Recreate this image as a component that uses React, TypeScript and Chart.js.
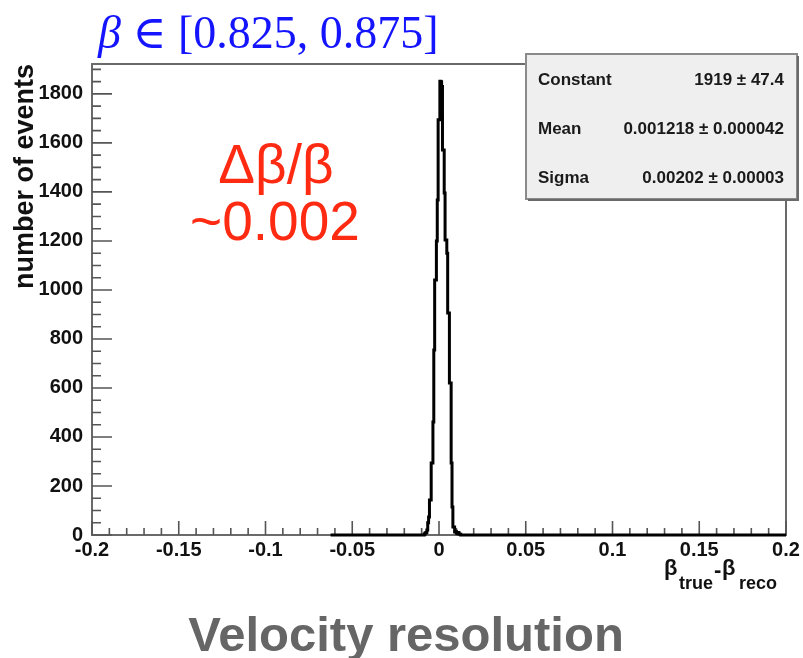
import React, { useEffect, useRef } from 'react';
import { Chart, registerables } from 'chart.js';

Chart.register(...registerables);

// ---------------- data ----------------
const histRange = [-0.0625, 0.2];
const binWidth = 0.0005;
const peakStart = -0.0085;
const peakCounts = [
  4, 8, 10, 20, 50, 73, 143, 143, 294, 294, 461, 755, 1041, 1041, 1200, 1367,
  1694, 1694, 1852, 1850, 1830, 1571, 1571, 1396, 1204, 1204, 1150, 906, 906,
  620, 620, 294, 114, 33, 33, 12, 15, 8, 5, 10, 4, 3,
];
const xTickValues = [-0.2, -0.15, -0.1, -0.05, 0, 0.05, 0.1, 0.15, 0.2];
const xTickLabels = ['-0.2', '-0.15', '-0.1', '-0.05', '0', '0.05', '0.1', '0.15', '0.2'];
const yTickValues = [0, 200, 400, 600, 800, 1000, 1200, 1400, 1600, 1800];
const yTickLabels = ['0', '200', '400', '600', '800', '1000', '1200', '1400', '1600', '1800'];
const xMinorStep = 0.01;
const yMinorStep = 50;
const yMax = 1922;
const statsNames = ['Constant', 'Mean', 'Sigma'];
const statsValues = ['1919 \u00b1 47.4', '0.001218 \u00b1 0.000042', '0.00202 \u00b1 0.00003'];
const yTitle = 'number of events';
const annotationLines = ['\u0394\u03b2/\u03b2', '~0.002'];
const bottomTitle = 'Velocity resolution';

const W = 803;
const H = 658;
const SANS = '"Liberation Sans", Arial, sans-serif';
const SERIF = '"Liberation Serif", "DejaVu Serif", serif';

const overlayPlugin = {
  id: 'overlay',
  beforeDatasetsDraw(chart: any) {
    const { ctx, chartArea } = chart;
    const xs = chart.scales.x;
    const ys = chart.scales.y;
    const { left, right, top, bottom } = chartArea;
    ctx.save();
    // frame
    ctx.strokeStyle = '#6a6a6a';
    ctx.lineWidth = 2;
    ctx.beginPath();
    ctx.rect(left, top, right - left, bottom - top);
    ctx.stroke();
    // ticks
    ctx.lineWidth = 1.6;
    ctx.strokeStyle = '#555';
    ctx.beginPath();
    const nY = Math.floor(yMax / yMinorStep);
    for (let k = 0; k <= nY; k++) {
      const v = k * yMinorStep;
      const py = ys.getPixelForValue(v);
      const len = v % 200 === 0 ? 20 : 9;
      ctx.moveTo(left, py);
      ctx.lineTo(left + len, py);
    }
    const nX = Math.round((xs.max - xs.min) / xMinorStep);
    for (let k = 0; k <= nX; k++) {
      const v = xs.min + k * xMinorStep;
      const px = xs.getPixelForValue(v);
      const len = k % 5 === 0 ? 14 : 7;
      ctx.moveTo(px, bottom);
      ctx.lineTo(px, bottom - len);
    }
    ctx.stroke();
    ctx.restore();
  },
  afterDraw(chart: any) {
    const { ctx } = chart;
    ctx.save();

    // blue title
    ctx.fillStyle = '#1414ff';
    ctx.textBaseline = 'alphabetic';
    ctx.textAlign = 'left';
    ctx.font = `italic 46px ${SERIF}`;
    ctx.fillText('\u03b2', 98, 48);
    const bw = ctx.measureText('\u03b2').width;
    ctx.font = `46px ${SERIF}`;
    ctx.fillText(' \u2208 [0.825, 0.875]', 98 + bw, 48);

    // y title
    ctx.save();
    ctx.translate(33, 64);
    ctx.rotate(-Math.PI / 2);
    ctx.fillStyle = '#111';
    ctx.font = `bold 27px ${SANS}`;
    ctx.textAlign = 'right';
    ctx.fillText(yTitle, 0, 0);
    ctx.restore();

    // red annotation
    ctx.fillStyle = '#ff2a12';
    ctx.font = `55px ${SANS}`;
    ctx.textAlign = 'center';
    ctx.fillText(annotationLines[0], 276, 183);
    ctx.fillText(annotationLines[1], 275, 240);

    // stats box
    const bx = 526, by = 54, bwid = 271, bh = 145;
    ctx.fillStyle = '#efefef';
    ctx.fillRect(bx, by, bwid, bh);
    ctx.strokeStyle = '#8a8a8a';
    ctx.lineWidth = 2;
    ctx.strokeRect(bx, by, bwid, bh);
    ctx.strokeStyle = '#6a6a6a';
    ctx.beginPath();
    ctx.moveTo(bx + 2, by + bh + 1);
    ctx.lineTo(bx + bwid + 1, by + bh + 1);
    ctx.lineTo(bx + bwid + 1, by + 2);
    ctx.stroke();
    ctx.fillStyle = '#1a1a1a';
    ctx.font = `bold 17px ${SANS}`;
    const rows = [85, 134, 183];
    statsNames.forEach((n, i) => {
      ctx.textAlign = 'left';
      ctx.fillText(n, 538, rows[i]);
      ctx.textAlign = 'right';
      ctx.fillText(statsValues[i], 784, rows[i]);
    });

    // x-axis title
    ctx.fillStyle = '#111';
    ctx.textAlign = 'left';
    ctx.font = `bold 22px ${SANS}`;
    ctx.fillText('\u03b2', 664, 575);
    ctx.font = `bold 18px ${SANS}`;
    ctx.fillText('true', 679, 589);
    ctx.font = `bold 22px ${SANS}`;
    ctx.fillText('-', 714, 577);
    ctx.fillText('\u03b2', 722, 575);
    ctx.font = `bold 18px ${SANS}`;
    ctx.fillText('reco', 739, 589);

    // bottom title
    ctx.fillStyle = '#666666';
    ctx.font = `bold 49px ${SANS}`;
    ctx.textAlign = 'center';
    ctx.fillText(bottomTitle, 406, 651);

    ctx.restore();
  },
};

export default function App() {
  const ref = useRef<HTMLCanvasElement | null>(null);

  useEffect(() => {
    if (!ref.current) return;
    const points: { x: number; y: number }[] = [{ x: histRange[0], y: 0 }];
    peakCounts.forEach((c, i) => points.push({ x: peakStart + i * binWidth, y: c }));
    points.push({ x: peakStart + peakCounts.length * binWidth, y: 0 });
    points.push({ x: histRange[1], y: 0 });

    const chart = new Chart(ref.current, {
      type: 'line',
      data: {
        datasets: [
          {
            data: points,
            borderColor: '#000',
            borderWidth: 3,
            pointRadius: 0,
            stepped: true,
            fill: false,
            clip: false as any,
          } as any,
        ],
      },
      options: {
        animation: false,
        responsive: false,
        maintainAspectRatio: false,
        layout: { padding: { left: 0, top: 64, right: 17, bottom: 0 } },
        plugins: {
          legend: { display: false },
          tooltip: { enabled: false },
          title: { display: false },
        },
        scales: {
          x: {
            type: 'linear',
            min: -0.2,
            max: 0.2,
            afterBuildTicks: (s: any) => {
              s.ticks = xTickValues.map((v) => ({ value: v }));
            },
            afterFit: (s: any) => {
              s.height = H - 535;
            },
            ticks: {
              callback: (_v: any, i: number) => xTickLabels[i],
              font: { family: SANS, weight: 'bold', size: 20 },
              color: '#111',
              maxRotation: 0,
              autoSkip: false,
              padding: 3,
            },
            grid: { display: false, drawTicks: false },
            border: { display: false },
          },
          y: {
            type: 'linear',
            min: 0,
            max: yMax,
            afterBuildTicks: (s: any) => {
              s.ticks = yTickValues.map((v) => ({ value: v }));
            },
            afterFit: (s: any) => {
              s.width = 92;
            },
            ticks: {
              callback: (_v: any, i: number) => yTickLabels[i],
              font: { family: SANS, weight: 'bold', size: 20 },
              color: '#111',
              autoSkip: false,
              padding: 9,
            },
            grid: { display: false, drawTicks: false },
            border: { display: false },
          },
        },
      } as any,
      plugins: [overlayPlugin],
    });
    return () => chart.destroy();
  }, []);

  return (
    <div style={{ position: 'absolute', left: 0, top: 0, width: W, height: H, background: '#fff' }}>
      <canvas ref={ref} width={W} height={H} style={{ display: 'block' }} />
    </div>
  );
}
